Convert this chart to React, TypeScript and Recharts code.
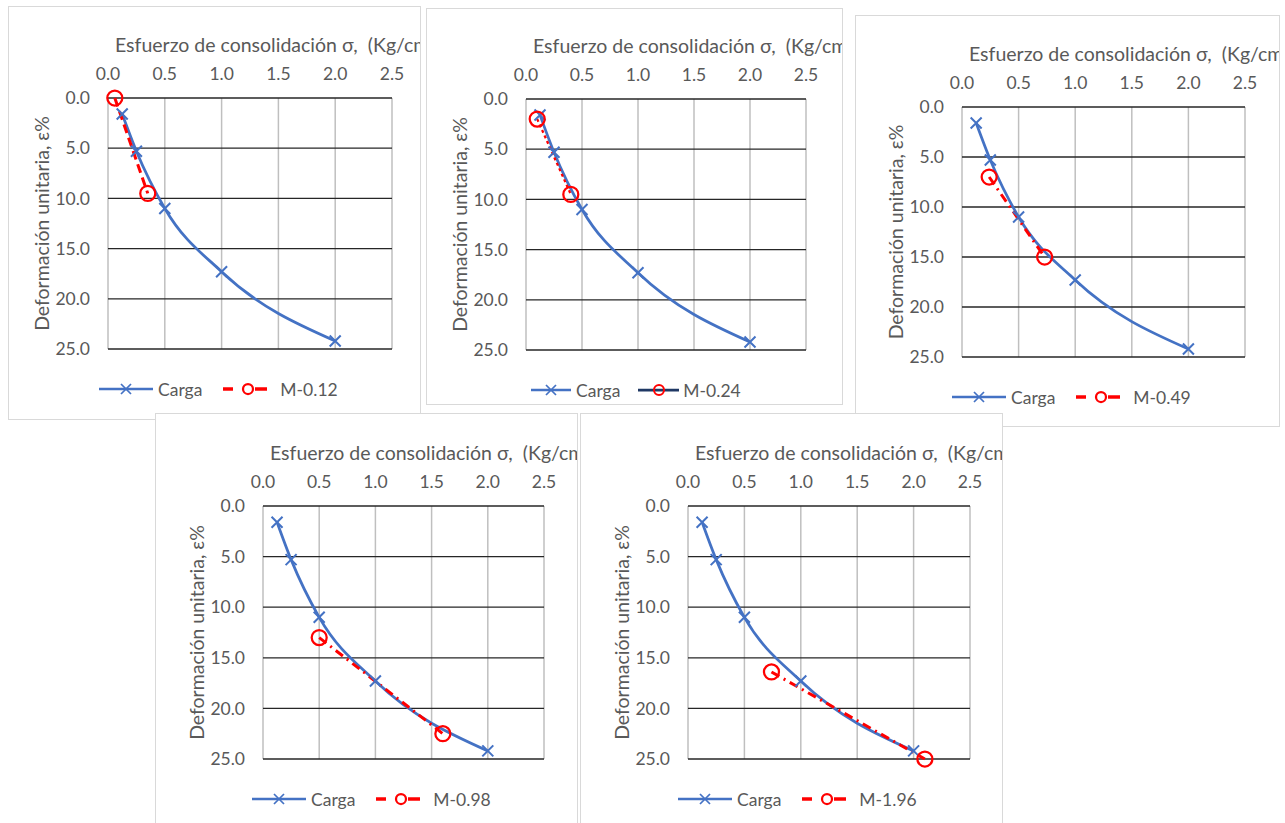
import { LineChart, Line, XAxis, YAxis, CartesianGrid } from 'recharts'

// carga curve (same in all five panels)
const cargaX = [0.125, 0.25, 0.5, 1, 2]
const cargaY = [1.6, 5.3, 11.0, 17.3, 24.2]

// the M-series: two points each
const mNames = ['M-0.12', 'M-0.24', 'M-0.49', 'M-0.98', 'M-1.96']
const mX = [[0.06, 0.35], [0.1, 0.4], [0.24, 0.73], [0.5, 1.6], [0.74, 2.1]]
const mY = [[0, 9.5], [2.0, 9.5], [7.0, 15.0], [13.0, 22.5], [16.4, 25.0]]

const xTicks = [0, 0.5, 1, 1.5, 2, 2.5]
const yTicks = [0, 5, 10, 15, 20, 25]

const TITLE = 'Esfuerzo de consolidación σ,  (Kg/cm²)'
const YLABEL = 'Deformación unitaria, ε%'

const BLUE = '#4472C4'
const RED = '#FF0000'
const NAVY = '#1F3864'
const GRAY = '#595959'
const YW = 80
const XH = 60

// frame + plot box (page px) for each panel
const PANELS = [
  { left: 8, top: 6, w: 413, h: 414, plot: [108, 98, 392, 349], dash: '9 5', legDx: -9 },
  { left: 426, top: 8, w: 417, h: 397, plot: [526, 99, 806, 350], dash: '3 3', legDx: 5 },
  { left: 855, top: 15, w: 425, h: 412, plot: [962, 107, 1245, 357], dash: '9 5 2 5', legDx: -10 },
  { left: 155, top: 413, w: 423, h: 420, plot: [263, 506, 544, 759], dash: '9 5 2 5', legDx: -11 },
  { left: 580, top: 413, w: 423, h: 420, plot: [688, 506, 970, 759], dash: '9 5 2 5', legDx: -10 },
]

function XMark(props: any) {
  const { cx, cy, index } = props
  if (cx == null || cy == null) return <g key={index} />
  return (
    <path key={index} d={`M${cx - 5.5},${cy - 5.5}L${cx + 5.5},${cy + 5.5}M${cx + 5.5},${cy - 5.5}L${cx - 5.5},${cy + 5.5}`}
      stroke={BLUE} strokeWidth={2} fill="none" />
  )
}

function Circ(props: any) {
  const { cx, cy, index } = props
  if (cx == null || cy == null) return <g key={index} />
  return <circle key={index} cx={cx} cy={cy} r={7.5} stroke={RED} strokeWidth={2.25} fill="none" />
}

function Panel({ i }: { i: number }) {
  const p = PANELS[i]
  const cw = p.w - 2
  const pl = p.plot[0] - p.left - 1
  const pt = p.plot[1] - p.top - 1
  const pr = p.plot[2] - p.left - 1
  const pb = p.plot[3] - p.top - 1
  const carga = cargaX.map((x, k) => ({ x, y: cargaY[k] }))
  const m = mX[i].map((x, k) => ({ x, y: mY[i][k] }))
  const solidLegend = i === 1

  return (
    <div style={{ position: 'absolute', left: p.left, top: p.top, width: p.w, height: p.h, border: '1px solid #d9d9d9', boxSizing: 'border-box', background: '#fff', overflow: 'hidden' }}>
      <LineChart width={cw} height={pb + 16} margin={{ top: pt - XH, left: pl - YW, right: cw - pr, bottom: 16 }}>
        <CartesianGrid horizontal={false} stroke="#bfbfbf" strokeWidth={1.5} />
        <CartesianGrid vertical={false} stroke="#262626" strokeWidth={1.3} />
        <XAxis type="number" dataKey="x" orientation="top" domain={[0, 2.5]} ticks={xTicks} interval={0}
          tickFormatter={(v: number) => v.toFixed(1)} axisLine={false} tickLine={false} height={XH} tickMargin={12}
          tick={{ fill: GRAY, fontSize: 17.5 }} />
        <YAxis type="number" dataKey="y" reversed domain={[0, 25]} ticks={yTicks} interval={0}
          tickFormatter={(v: number) => v.toFixed(1)} axisLine={false} tickLine={false} width={YW} tickMargin={12}
          tick={{ fill: GRAY, fontSize: 17.5 }}
          label={{ value: YLABEL, angle: -90, position: 'insideLeft', offset: 14, style: { textAnchor: 'middle', fill: GRAY, fontSize: 19.5 } }} />
        <Line data={carga} dataKey="y" name="Carga" type="monotone" stroke={BLUE} strokeWidth={2.75} dot={XMark} activeDot={false} isAnimationActive={false} />
        <Line data={m} dataKey="y" name={mNames[i]} type="linear" stroke={RED} strokeWidth={i === 1 ? 2.25 : 3} strokeDasharray={p.dash} dot={Circ} activeDot={false} isAnimationActive={false} />
      </LineChart>
      <div style={{ position: 'absolute', left: pl + 7, top: pt - 65, lineHeight: '24px', fontSize: 19.5, color: GRAY, whiteSpace: 'pre' }}>{TITLE}</div>
      <div style={{ position: 'absolute', left: pl + p.legDx, top: pb + 28, height: 24, display: 'flex', alignItems: 'center', fontSize: 17.5, color: GRAY, whiteSpace: 'nowrap' }}>
        <svg width={solidLegend ? 40 : 54} height={16}>
          <line x1={0} y1={8} x2={solidLegend ? 40 : 54} y2={8} stroke={BLUE} strokeWidth={2.5} />
          <path d={solidLegend ? 'M15,3L25,13M25,3L15,13' : 'M22,3L32,13M32,3L22,13'} stroke={BLUE} strokeWidth={1.75} />
        </svg>
        <span style={{ marginLeft: 5 }}>Carga</span>
        {solidLegend ? (
          <svg width={41} height={16} style={{ marginLeft: 18 }}>
            <line x1={0} y1={8} x2={41} y2={8} stroke={NAVY} strokeWidth={2.75} />
            <circle cx={21} cy={8} r={5} stroke={RED} strokeWidth={2} fill="none" />
          </svg>
        ) : (
          <svg width={45} height={16} style={{ marginLeft: 21 }}>
            <line x1={0} y1={8} x2={10} y2={8} stroke={RED} strokeWidth={3.5} />
            <circle cx={25} cy={8} r={5} stroke={RED} strokeWidth={2.25} fill="none" />
            <line x1={32} y1={8} x2={44} y2={8} stroke={RED} strokeWidth={3.5} />
          </svg>
        )}
        <span style={{ marginLeft: solidLegend ? 4 : 12 }}>{mNames[i]}</span>
      </div>
    </div>
  )
}

export default function App() {
  return (
    <div style={{ position: 'absolute', left: 0, top: 0, width: 1285, height: 823, overflow: 'hidden', background: '#fff', fontFamily: 'Lato, sans-serif' }}>
      {PANELS.map((_, i) => <Panel key={i} i={i} />)}
    </div>
  )
}
